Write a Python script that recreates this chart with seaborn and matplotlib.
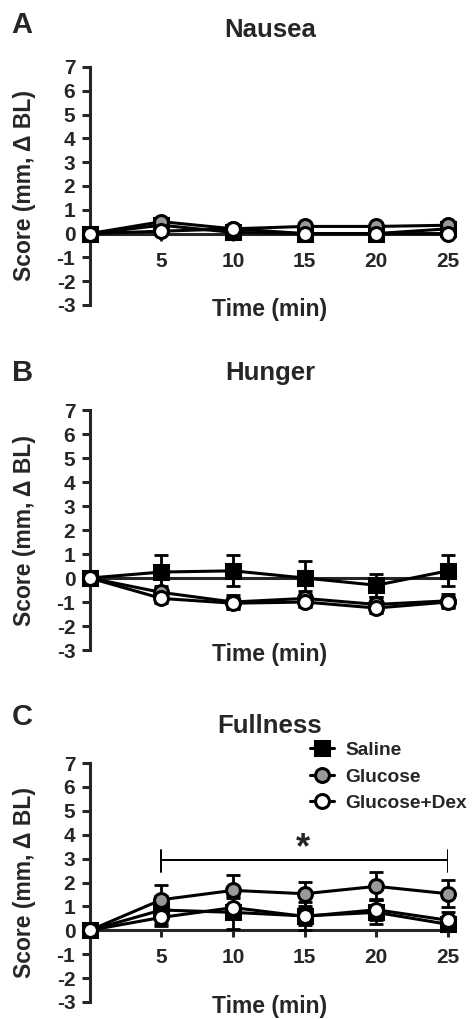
import matplotlib
matplotlib.use('Agg')
from matplotlib import pyplot as plt
from matplotlib.lines import Line2D
import seaborn as sns
import numpy as np
import pandas as pd

sns.set_style('ticks')
plt.rcParams['font.family'] = ['Liberation Sans', 'DejaVu Sans']
plt.rcParams['font.weight'] = 'bold'
plt.rcParams['axes.unicode_minus'] = False

# time points (min)
time = [0, 5, 10, 15, 20, 25]
groups = ['Saline', 'Glucose', 'Glucose+Dex']

# Nausea (mean, sem)
nausea_saline = [0, 0.35, 0.05, 0.0, 0.0, 0.2]
nausea_saline_sem = [0, 0.1, 0.1, 0.1, 0.1, 0.1]
nausea_glucose = [0, 0.5, 0.2, 0.3, 0.3, 0.35]
nausea_glucose_sem = [0, 0.1, 0.1, 0.1, 0.1, 0.1]
nausea_dex = [0, 0.1, 0.2, 0.0, 0.0, 0.0]
nausea_dex_sem = [0, 0.1, 0.1, 0.05, 0.05, 0.05]

# Hunger
hunger_saline = [0, 0.25, 0.3, 0.0, -0.3, 0.3]
hunger_saline_sem = [0, 0.7, 0.65, 0.7, 0.48, 0.65]
hunger_glucose = [0, -0.6, -1.0, -0.85, -1.1, -0.95]
hunger_glucose_sem = [0, 0.25, 0.3, 0.3, 0.3, 0.3]
hunger_dex = [0, -0.85, -1.05, -1.0, -1.25, -1.0]
hunger_dex_sem = [0, 0.2, 0.2, 0.2, 0.2, 0.2]

# Fullness
full_saline = [0, 0.85, 0.75, 0.6, 0.75, 0.25]
full_saline_sem = [0, 0.6, 0.7, 0.6, 0.5, 0.3]
full_glucose = [0, 1.28, 1.67, 1.53, 1.84, 1.53]
full_glucose_sem = [0, 0.6, 0.63, 0.5, 0.58, 0.57]
full_dex = [0, 0.54, 0.95, 0.58, 0.86, 0.42]
full_dex_sem = [0, 0.35, 0.4, 0.35, 0.45, 0.35]

panels = [
    ('A', 'Nausea', [nausea_saline, nausea_glucose, nausea_dex],
     [nausea_saline_sem, nausea_glucose_sem, nausea_dex_sem], True),
    ('B', 'Hunger', [hunger_saline, hunger_glucose, hunger_dex],
     [hunger_saline_sem, hunger_glucose_sem, hunger_dex_sem], False),
    ('C', 'Fullness', [full_saline, full_glucose, full_dex],
     [full_saline_sem, full_glucose_sem, full_dex_sem], True),
]

styles = {
    'Saline': dict(marker='s', markerfacecolor='black'),
    'Glucose': dict(marker='o', markerfacecolor='#999999'),
    'Glucose+Dex': dict(marker='o', markerfacecolor='white'),
}

fig = plt.figure(figsize=(4.73, 10.19), dpi=100)
# axes rectangles [left, bottom, width, height]
rects = [[0.190, 0.7007, 0.757, 0.2336],
         [0.190, 0.3621, 0.757, 0.2355],
         [0.190, 0.0167, 0.757, 0.2345]]
letter_y = [0.9755, 0.634, 0.2964]

for (letter, title, means, sems, show_xt), rect, ly in zip(panels, rects, letter_y):
    ax = fig.add_axes(rect)
    for g, m, s in zip(groups, means, sems):
        df = pd.DataFrame({'time': time, 'score': m})
        ax.errorbar(time, m, yerr=s, fmt='none', ecolor='black',
                    elinewidth=2.0, capsize=5, capthick=2.0, clip_on=False, zorder=2)
        sns.lineplot(data=df, x='time', y='score', ax=ax, color='black',
                     linewidth=2.2, markersize=10, markeredgecolor='black',
                     markeredgewidth=2.2, clip_on=False, zorder=3, **styles[g])
    ax.set_xlim(0, 25)
    ax.set_ylim(-3, 7)
    ax.set_yticks(range(-3, 8))
    ax.set_xticks([5, 10, 15, 20, 25])
    if not show_xt:
        ax.set_xticklabels([])
    sns.despine(ax=ax)
    ax.spines['bottom'].set_position(('data', 0))
    ax.spines['bottom'].set_bounds(0, 25)
    for sp in ['left', 'bottom']:
        ax.spines[sp].set_linewidth(2.2)
        ax.spines[sp].set_zorder(1)
    ax.tick_params(axis='y', length=5.5, width=2.2, pad=5, labelsize=15)
    ax.tick_params(axis='x', length=5, width=2.2, pad=8, labelsize=15)
    for lab in ax.get_xticklabels() + ax.get_yticklabels():
        lab.set_fontweight('bold')
    ax.set_xlabel('Time (min)', fontsize=16.5, fontweight='bold')
    ax.xaxis.set_label_coords(0.503, 0.03)
    ax.set_ylabel('Score (mm, \u0394 BL)', fontsize=16.5, fontweight='bold')
    ax.yaxis.set_label_coords(-0.15, 0.5)
    ax.text(0.503, 1.155, title, transform=ax.transAxes, ha='center', va='center',
            fontsize=18.5, fontweight='bold')
    fig.text(0.047, ly, letter, ha='center', va='center', fontsize=21, fontweight='bold')

    if letter == 'C':
        # significance bar
        ax.plot([5, 25], [2.93, 2.93], color='black', lw=1.4)
        ax.plot([5, 5], [2.45, 3.35], color='black', lw=1.4)
        ax.plot([25, 25], [2.45, 3.35], color='black', lw=1.4)
        ax.text(14.9, 3.4, '*', ha='center', va='center', fontsize=26, fontweight='bold')
        handles = [Line2D([0], [0], color='black', lw=2.2, markersize=10,
                          markeredgecolor='black', markeredgewidth=2.2, **styles[g])
                   for g in groups]
        leg = ax.legend(handles, groups, loc='upper left', bbox_to_anchor=(0.615, 1.09),
                        frameon=False, fontsize=13.8, handlelength=1.25, handletextpad=0.6,
                        labelspacing=0.48, borderaxespad=0, borderpad=0)
        for t in leg.get_texts():
            t.set_fontweight('bold')

fig.savefig('out.png', dpi=100)
